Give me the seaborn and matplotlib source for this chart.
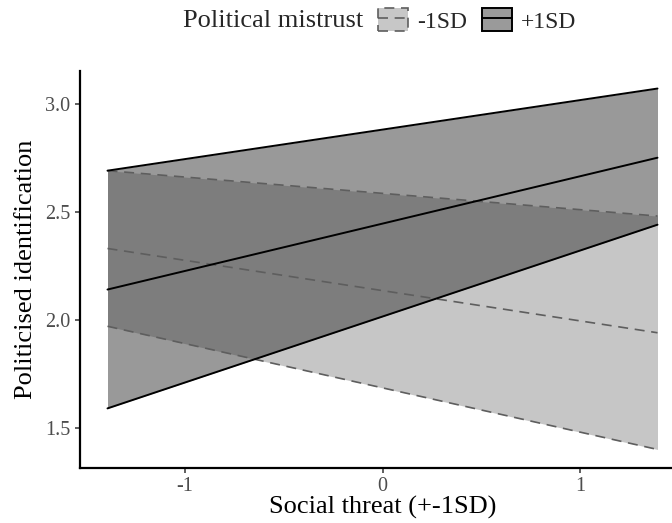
import matplotlib
matplotlib.use('Agg')
import matplotlib.pyplot as plt
from matplotlib.patches import Patch
from matplotlib.lines import Line2D
import seaborn as sns
import pandas as pd

# values
threat = [-1.39, 1.39]
groups = ['-1SD', '+1SD']
low_fit = [2.33, 1.94]
low_lower = [1.97, 1.40]
low_upper = [2.69, 2.48]
high_fit = [2.14, 2.75]
high_lower = [1.59, 2.44]
high_upper = [2.69, 3.07]
x_ticks = [-1, 0, 1]
y_ticks = [1.5, 2.0, 2.5, 3.0]

sns.set_style('ticks')
plt.rcParams['font.family'] = ['Liberation Serif', 'DejaVu Serif']
plt.rcParams['axes.unicode_minus'] = False

fig = plt.figure(figsize=(6.72, 5.23), dpi=100)
ax = fig.add_axes([80 / 672, 55.5 / 523, 605 / 672, 397 / 523])

styles = {
    '-1SD': dict(fill='#8f8f8f', key='#c7c7c7', line='#5e5e5e', ls=(0, (6, 4)), lw=1.2),
    '+1SD': dict(fill='#353535', key='#9a9a9a', line='black', ls='-', lw=1.4),
}
bands = {
    '-1SD': (low_lower, low_fit, low_upper),
    '+1SD': (high_lower, high_fit, high_upper),
}

for g in groups:
    lo, fit, hi = bands[g]
    st = styles[g]
    df = pd.DataFrame({'threat': threat, 'lo': lo, 'fit': fit, 'hi': hi})
    ax.fill_between(df['threat'], df['lo'], df['hi'], facecolor=st['fill'],
                    alpha=0.5, linewidth=0, zorder=1)
for g in groups:
    lo, fit, hi = bands[g]
    st = styles[g]
    df = pd.DataFrame({'threat': threat, 'lo': lo, 'fit': fit, 'hi': hi})
    for col in ['lo', 'fit', 'hi']:
        sns.lineplot(data=df, x='threat', y=col, ax=ax, color=st['line'],
                     linestyle=st['ls'], linewidth=st['lw'], legend=False, zorder=3)

ax.margins(x=0.05, y=0.05)
ax.set_xticks(x_ticks)
ax.set_xticklabels([str(t) for t in x_ticks])
ax.set_yticks(y_ticks)
ax.set_yticklabels(['%.1f' % t for t in y_ticks])
ax.tick_params(axis='both', labelsize=14.5, labelcolor='#4d4d4d', color='#333333',
               length=3.8, width=1.1, direction='out', pad=3)
for side in ['left', 'bottom']:
    ax.spines[side].set_linewidth(1.6)
    ax.spines[side].set_color('black')
sns.despine(ax=ax)
ax.set_xlabel('Social threat (+-1SD)', fontsize=19, color='black', labelpad=0)
ax.set_ylabel('Politicised identification', fontsize=19, color='black', labelpad=6)

# legend across the top
fig.text(183 / 672, 1 - 21 / 523, 'Political mistrust', fontsize=19,
         ha='left', va='center')
handles = []
for g in groups:
    st = styles[g]
    handles.append((Patch(facecolor=st['key'], edgecolor=st['line'],
                          linestyle=st['ls'] if g == '-1SD' else '-', linewidth=st['lw']),
                    Line2D([], [], color=st['line'], linestyle=st['ls'], linewidth=st['lw'])))
fig.legend(handles, groups, loc='center left', bbox_to_anchor=(378 / 672, 1 - 20.5 / 523),
           ncol=2, frameon=False, fontsize=17, borderpad=0, borderaxespad=0,
           handlelength=1.27, handleheight=1.12, handletextpad=0.38, columnspacing=0.64)

fig.savefig('out.png', dpi=100)
